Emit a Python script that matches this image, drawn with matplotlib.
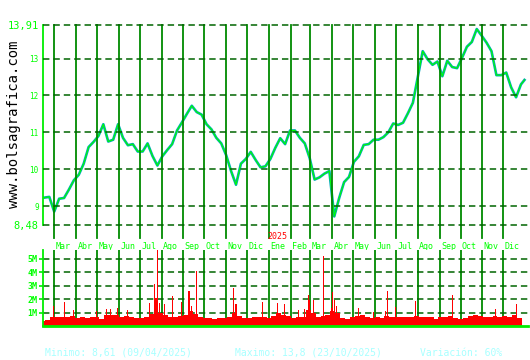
import matplotlib
matplotlib.use('Agg')
import matplotlib.pyplot as plt
import pandas as pd

# weekly closes (Fridays) + last session
price_dates = list(pd.date_range('2024-02-16', '2025-12-26', freq='W-FRI')) + [pd.Timestamp('2025-12-31')]
prices = [9.23, 9.25, 8.85, 9.20, 9.22, 9.45, 9.70, 9.85, 10.15, 10.60,
          10.74, 10.90, 11.22, 10.75, 10.80, 11.22, 10.85, 10.65, 10.68, 10.48,
          10.48, 10.70, 10.36, 10.10, 10.35, 10.52, 10.68, 11.05, 11.27, 11.50,
          11.72, 11.55, 11.48, 11.22, 11.08, 10.85, 10.70, 10.38, 9.95, 9.58,
          10.15, 10.28, 10.47, 10.25, 10.05, 10.08, 10.28, 10.58, 10.84, 10.68,
          11.05, 11.05, 10.85, 10.70, 10.30, 9.72, 9.78, 9.88, 9.95, 8.72,
          9.22, 9.65, 9.79, 10.20, 10.35, 10.66, 10.68, 10.80, 10.80, 10.87,
          11.00, 11.24, 11.20, 11.26, 11.52, 11.80, 12.50, 13.20, 12.98, 12.83,
          12.92, 12.52, 12.94, 12.77, 12.74, 13.02, 13.32, 13.45, 13.80, 13.62,
          13.43, 13.20, 12.55, 12.55, 12.62, 12.22, 11.95, 12.30, 12.42]

# typical daily volume per week (millions)
vol_weeks = pd.date_range('2024-02-16', '2025-12-26', freq='W-FRI')
vol_weekly = [0.40, 0.45, 0.65, 0.70, 0.65, 0.65, 0.75, 0.60, 0.65, 0.60,
              0.65, 0.70, 0.55, 0.85, 0.80, 0.80, 0.70, 0.75, 0.65, 0.60,
              0.60, 0.65, 0.90, 1.20, 1.00, 0.85, 0.70, 0.65, 0.75, 0.80,
              1.10, 0.90, 0.65, 0.60, 0.60, 0.55, 0.60, 0.60, 0.65, 0.95,
              0.75, 0.60, 0.60, 0.65, 0.65, 0.70, 0.60, 0.75, 0.95, 0.85,
              0.75, 0.60, 0.65, 0.70, 1.20, 0.95, 0.70, 0.75, 0.80, 1.10,
              1.00, 0.60, 0.55, 0.65, 0.75, 0.80, 0.65, 0.60, 0.65, 0.60,
              0.75, 0.65, 0.70, 0.65, 0.65, 0.65, 0.75, 0.65, 0.70, 0.65,
              0.55, 0.65, 0.70, 0.75, 0.60, 0.55, 0.60, 0.75, 0.80, 0.75,
              0.65, 0.70, 0.75, 0.70, 0.75, 0.70, 0.85, 0.60]

# single-day volume spikes (millions)
spike_dates = ['2024-02-29', '2024-03-15', '2024-03-28', '2024-04-30', '2024-05-14',
               '2024-05-20', '2024-05-30', '2024-06-13', '2024-07-15', '2024-07-22',
               '2024-07-24', '2024-07-26', '2024-07-29', '2024-08-05', '2024-08-16',
               '2024-08-30', '2024-09-09', '2024-09-12', '2024-09-20', '2024-11-11',
               '2024-11-15', '2024-12-23', '2025-01-13', '2025-01-23', '2025-02-12',
               '2025-02-21', '2025-02-26', '2025-02-28', '2025-03-05', '2025-03-19',
               '2025-03-31', '2025-04-02', '2025-04-04', '2025-04-07', '2025-05-09',
               '2025-05-30', '2025-06-16', '2025-06-19', '2025-06-30', '2025-07-29',
               '2025-09-19', '2025-11-20', '2025-12-19']
spike_vols = [1.5, 1.75, 1.15, 1.1, 1.25, 1.25, 1.35, 1.15, 1.7, 3.1,
              2.1, 6.0, 1.7, 1.65, 2.2, 1.75, 2.6, 1.5, 4.1, 2.8,
              1.6, 1.75, 1.7, 1.6, 1.15, 1.25, 2.3, 1.95, 1.95, 5.2,
              1.35, 2.55, 1.95, 1.5, 1.3, 1.05, 1.1, 2.6, 1.4, 1.85,
              2.3, 1.25, 1.65]

month_labels = ['Mar', 'Abr', 'May', 'Jun', 'Jul', 'Ago', 'Sep', 'Oct', 'Nov', 'Dic', 'Ene',
                'Feb', 'Mar', 'Abr', 'May', 'Jun', 'Jul', 'Ago', 'Sep', 'Oct', 'Nov', 'Dic']
month_starts = pd.date_range('2024-03-01', '2025-12-01', freq='MS')

price_ticks = [8.48, 9, 10, 11, 12, 13, 13.91]
price_ticklabels = ['8,48', '9', '10', '11', '12', '13', '13,91']
vol_ticks = [1, 2, 3, 4, 5]
vol_ticklabels = ['1M', '2M', '3M', '4M', '5M']

MONO = 'DejaVu Sans Mono'
BRIGHT = '#00ee00'
VLINE = '#008a00'
DASH = '#006400'
dash_style = (0, (4.2, 2.6))

fig = plt.figure(figsize=(5.3, 3.6), dpi=100)
fig.patch.set_facecolor('white')

x0, x1 = pd.Timestamp('2024-02-14'), pd.Timestamp('2026-01-05')

# price panel
ax = fig.add_axes([0.0811, 0.3742, 0.9151, 0.5564])
ax.plot(price_dates, prices, color='#00a8b8', lw=1.9, zorder=2)
ax.plot(price_dates, prices, color='#00ff00', lw=0.8, zorder=2.5)
ax.set_xlim(x0, x1)
ax.set_ylim(8.48, 13.91)
for d in month_starts:
    ax.axvline(d, ymin=-0.065, ymax=1, color=VLINE, lw=1.3, clip_on=False, zorder=3)
for t in price_ticks:
    ax.axhline(t, color=DASH, lw=1.1, ls=dash_style, zorder=3, clip_on=False)
ax.set_yticks(price_ticks)
ax.set_yticklabels(price_ticklabels, family=MONO, color='#00ff00')
for lab in ax.get_yticklabels():
    lab.set_fontsize(7.5 if ',' in lab.get_text() else 5.5)
ax.tick_params(axis='y', length=0, pad=3)
ax.set_xticks([])
for s in ['top', 'right', 'bottom']:
    ax.spines[s].set_visible(False)
ax.spines['left'].set_color(BRIGHT)
ax.spines['left'].set_linewidth(1.3)
ax.spines['left'].set_bounds(8.48, 13.91)

for d, lab in zip(month_starts, month_labels):
    ax.annotate(lab, xy=(d, 8.48), xytext=(1, -15), textcoords='offset points',
                family=MONO, fontsize=6, color='#00ff00', ha='left', va='center')
ax.annotate('2025', xy=(pd.Timestamp('2025-01-01'), 8.48), xytext=(6, -8),
            textcoords='offset points', family=MONO, fontsize=6, color='#ff0000',
            ha='center', va='center')

# volume panel
axv = fig.add_axes([0.0811, 0.0944, 0.9151, 0.2111])
for d in month_starts:
    axv.axvline(d, color=VLINE, lw=1.3, zorder=1)
for t in vol_ticks:
    axv.axhline(t, color=DASH, lw=1.1, ls=dash_style, zorder=1)
axv.bar(vol_weeks - pd.Timedelta(days=2), vol_weekly, width=7, color='#ff0000',
        lw=0, zorder=2)
axv.bar(pd.to_datetime(spike_dates), spike_vols, width=1.5, color='#ff0000',
        lw=0, zorder=2, antialiased=False)
axv.set_xlim(x0, x1)
axv.set_ylim(0, 5.63)
axv.set_yticks(vol_ticks)
axv.set_yticklabels(vol_ticklabels, family=MONO, fontsize=6, color='#00ff00',
                    fontweight='bold')
axv.tick_params(axis='y', length=3, width=1.2, color=BRIGHT, pad=1)
axv.set_xticks([])
for s in ['top', 'right']:
    axv.spines[s].set_visible(False)
axv.spines['left'].set_color(BRIGHT)
axv.spines['left'].set_linewidth(1.3)
axv.spines['bottom'].set_color(BRIGHT)
axv.spines['bottom'].set_linewidth(2)

# watermark and footer
fig.text(0.026, 0.655, 'www.bolsagrafica.com', rotation=90, family=MONO,
         fontsize=10, color='black', ha='center', va='center')
foot = dict(family=MONO, fontsize=7, color='#a8ffff', va='center', ha='left')
fig.text(0.085, 0.02, 'Minimo: 8,61 (09/04/2025)', **foot)
fig.text(0.443, 0.02, 'Maximo: 13,8 (23/10/2025)', **foot)
fig.text(0.792, 0.02, 'Variación: 60%', **foot)

fig.savefig('out.png', dpi=100, facecolor='white')
